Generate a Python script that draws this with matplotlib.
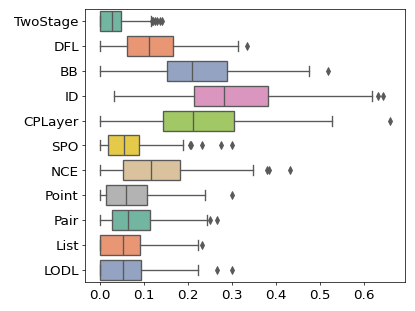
import colorsys

import matplotlib
matplotlib.use("Agg")
import matplotlib.pyplot as plt
import matplotlib.colors as mcolors

methods = ["TwoStage", "DFL", "BB", "ID", "CPLayer", "SPO", "NCE",
           "Point", "Pair", "List", "LODL"]
whislo = [0.0, 0.0, 0.0, 0.033, 0.0, 0.0, 0.0, 0.0, 0.0, 0.0, 0.0]
q1 = [0.0, 0.063, 0.154, 0.214, 0.143, 0.020, 0.054, 0.015, 0.028, 0.0, 0.0]
med = [0.027, 0.112, 0.210, 0.282, 0.212, 0.056, 0.116, 0.059, 0.065, 0.054, 0.054]
q3 = [0.0475, 0.167, 0.290, 0.381, 0.304, 0.090, 0.183, 0.107, 0.115, 0.091, 0.094]
whishi = [0.116, 0.313, 0.474, 0.618, 0.528, 0.190, 0.348, 0.238, 0.243, 0.223, 0.223]
fliers = [
    [0.118, 0.122, 0.126, 0.131, 0.136, 0.141],
    [0.334],
    [0.519],
    [0.631, 0.643],
    [0.658],
    [0.205, 0.208, 0.232, 0.276, 0.301],
    [0.379, 0.384, 0.431],
    [0.301],
    [0.250, 0.266],
    [0.232],
    [0.267, 0.301],
]

set2 = ["#66c2a5", "#fc8d62", "#8da0cb", "#e78ac3", "#a6d854",
        "#ffd92f", "#e5c494", "#b3b3b3"]


def desaturate(c, prop=0.75):
    h, l, s = colorsys.rgb_to_hls(*mcolors.to_rgb(c))
    return colorsys.hls_to_rgb(h, l, s * prop)


colors = [desaturate(set2[i % len(set2)]) for i in range(len(methods))]
lum = min(colorsys.rgb_to_hls(*c)[1] for c in colors) * 0.6
gray = (lum, lum, lum)

stats = []
for i, name in enumerate(methods):
    stats.append(dict(label=name, whislo=whislo[i], q1=q1[i], med=med[i],
                      q3=q3[i], whishi=whishi[i], fliers=fliers[i]))

# drawn as a 6.4x4.8 figure, saved small
fig, ax = plt.subplots(figsize=(6.4, 4.8))
fig.subplots_adjust(left=0.205, right=0.976, top=0.971, bottom=0.093)

positions = list(range(len(methods)))
lw = 1.5
bp = ax.bxp(stats, positions=positions, widths=0.8, vert=False,
            patch_artist=True,
            boxprops=dict(edgecolor=gray, linewidth=lw),
            medianprops=dict(color=gray, linewidth=lw),
            whiskerprops=dict(color=gray, linewidth=lw),
            capprops=dict(color=gray, linewidth=lw),
            flierprops=dict(marker="d", markerfacecolor=gray,
                            markeredgecolor=gray, markersize=6,
                            linestyle="none"))
for patch, c in zip(bp["boxes"], colors):
    patch.set_facecolor(c)

ax.set_ylim(len(methods) - 0.5, -0.5)
ax.set_yticks(positions)
ax.set_yticklabels(methods, fontsize=15)
ax.set_xlim(-0.033, 0.693)
ax.set_xticks([0.0, 0.1, 0.2, 0.3, 0.4, 0.5, 0.6])
ax.tick_params(axis="x", labelsize=15)

fig.savefig("out.png", dpi=415 / 6.4)
